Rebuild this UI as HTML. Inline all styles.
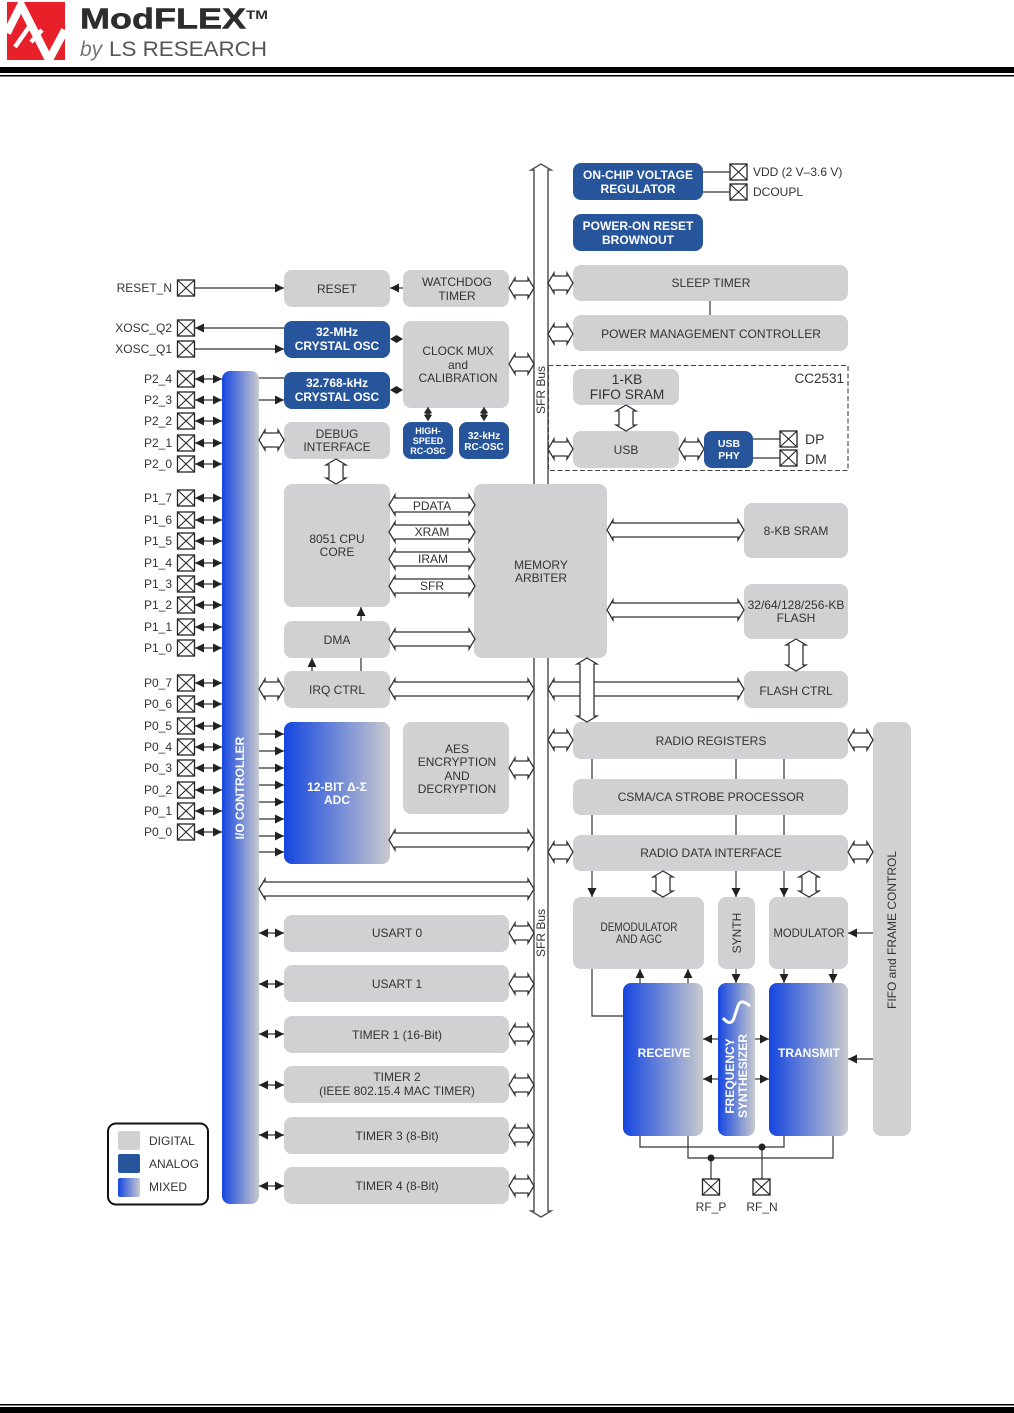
<!DOCTYPE html>
<html><head><meta charset="utf-8"><style>
html,body{margin:0;padding:0;background:#fff}
svg{display:block}
text{font-family:"Liberation Sans",sans-serif;font-size:12px;fill:#333;text-anchor:middle}
.w{fill:#fff;font-weight:bold}
.s{text-anchor:end}
.st{text-anchor:start}
.g{fill:#d0d1d3}.b2{fill:#27559b}.m{fill:url(#gr)}
.l{fill:none;stroke:#333;stroke-width:1.2}
.e{marker-end:url(#a)}
.d{marker-start:url(#a);marker-end:url(#a)}
.ba{fill:#fff;stroke:#333;stroke-width:1.3;stroke-linejoin:miter}
</style></head><body>
<svg width="1014" height="1413" viewBox="0 0 1014 1413" xmlns="http://www.w3.org/2000/svg">
<defs>
<linearGradient id="gr" x1="0" y1="0" x2="1" y2="0"><stop offset="0" stop-color="#1446e0"/><stop offset="1" stop-color="#c9cace"/></linearGradient>
<marker id="a" viewBox="0 0 9 9" refX="9" refY="4.5" markerWidth="9" markerHeight="9" markerUnits="userSpaceOnUse" orient="auto-start-reverse"><path d="M0 0L9 4.500L0 9z" fill="#222"/></marker>
<g id="p"><rect x="-8.500" y="-8" width="17" height="16" fill="#fff" stroke="#222" stroke-width="1.300"/><path d="M-8.500-8L8.500 8M8.500-8L-8.500 8" stroke="#222" stroke-width="1.100"/></g>
</defs>
<rect width="1014" height="1413" fill="#fff"/>

<!-- header -->
<rect x="7" y="2" width="58" height="58" fill="#e8202a"/>
<path d="M7 33L21 5L49 60L65 30" fill="none" stroke="#fff" stroke-width="8"/>
<path d="M15 47L29 27M31 42L42 30" fill="none" stroke="#fff" stroke-width="4.500"/>
<text x="80" y="28.500" style="font-size:29px;font-weight:bold;text-anchor:start;fill:#2d2d2d;stroke:#2d2d2d;stroke-width:.5" textLength="166" lengthAdjust="spacingAndGlyphs">ModFLEX</text>
<text x="246" y="19" style="font-size:12px;font-weight:bold;text-anchor:start;fill:#2d2d2d" textLength="22" lengthAdjust="spacingAndGlyphs">TM</text>
<text x="80" y="56" style="font-size:21px;font-style:italic;text-anchor:start;fill:#777">by</text>
<text x="109" y="56" style="font-size:21.500px;text-anchor:start;fill:#555" textLength="158" lengthAdjust="spacingAndGlyphs">LS RESEARCH</text>
<rect x="0" y="67" width="1014" height="6" fill="#000"/>
<rect x="0" y="75" width="1014" height="1.500" fill="#000"/>
<rect x="0" y="1404" width="1014" height="1.500" fill="#000"/>
<rect x="0" y="1407" width="1014" height="6" fill="#000"/>

<!-- SFR bus -->
<path d="M541 164l-10 6h3v1041h-3l10 6 10-6h-3V170h3z" fill="#fff" stroke="#555" stroke-width="1.500"/>
<text transform="translate(545 390) rotate(-90)">SFR Bus</text>
<text transform="translate(545 933) rotate(-90)">SFR Bus</text>

<!-- dashed -->
<rect x="548.500" y="365.500" width="299.500" height="105" fill="none" stroke="#444" stroke-width="1.100" stroke-dasharray="5 2.500"/>

<!-- blocks -->
<rect class="g" x="284" y="270" width="106" height="37" rx="8"/>
<rect class="g" x="403" y="270" width="106" height="37" rx="8"/>
<rect class="b2" x="284" y="321" width="106" height="37" rx="8"/>
<rect class="b2" x="284" y="372" width="106" height="37" rx="8"/>
<rect class="g" x="403" y="321" width="106" height="87" rx="8"/>
<rect class="g" x="284" y="422" width="106" height="37" rx="8"/>
<rect class="b2" x="403" y="422" width="50" height="37" rx="8"/>
<rect class="b2" x="459" y="422" width="50" height="37" rx="8"/>
<rect class="g" x="284" y="484" width="106" height="123" rx="8"/>
<rect class="g" x="474" y="484" width="133" height="174" rx="8"/>
<rect class="g" x="284" y="621" width="106" height="37" rx="8"/>
<rect class="g" x="284" y="671" width="106" height="37" rx="8"/>
<rect class="m" x="284" y="722" width="106" height="142" rx="8"/>
<rect class="g" x="403" y="722" width="106" height="92" rx="8"/>
<rect class="g" x="284" y="915" width="225" height="37" rx="8"/>
<rect class="g" x="284" y="965" width="225" height="37" rx="8"/>
<rect class="g" x="284" y="1016" width="225" height="37" rx="8"/>
<rect class="g" x="284" y="1066" width="225" height="37" rx="8"/>
<rect class="g" x="284" y="1117" width="225" height="37" rx="8"/>
<rect class="g" x="284" y="1167" width="225" height="37" rx="8"/>
<rect class="m" x="222" y="371" width="37" height="833" rx="8"/>
<rect class="b2" x="573" y="163" width="130" height="37" rx="8"/>
<rect class="b2" x="573" y="214" width="130" height="37" rx="8"/>
<rect class="g" x="573" y="265" width="275" height="36" rx="8"/>
<rect class="g" x="573" y="315" width="275" height="36" rx="8"/>
<rect class="g" x="573" y="369" width="106" height="36" rx="8"/>
<rect class="g" x="573" y="431" width="106" height="37" rx="8"/>
<rect class="b2" x="704" y="431" width="49" height="37" rx="8"/>
<rect class="g" x="744" y="503" width="104" height="55" rx="8"/>
<rect class="g" x="744" y="584" width="104" height="55" rx="8"/>
<rect class="g" x="744" y="671" width="104" height="37" rx="8"/>
<rect class="g" x="573" y="722" width="275" height="37" rx="8"/>
<rect class="g" x="573" y="779" width="275" height="36" rx="8"/>
<rect class="g" x="573" y="835" width="275" height="36" rx="8"/>
<rect class="g" x="573" y="897" width="131" height="72" rx="8"/>
<rect class="g" x="718" y="897" width="37" height="72" rx="8"/>
<rect class="g" x="769" y="897" width="79" height="72" rx="8"/>
<rect class="m" x="623" y="983" width="80" height="153" rx="8"/>
<rect class="m" x="718" y="983" width="37" height="153" rx="8"/>
<rect class="m" x="769" y="983" width="79" height="153" rx="8"/>
<rect class="g" x="873" y="722" width="38" height="414" rx="8"/>

<!-- horizontal block arrows -->
<path class="ba" d="M509 288l6-10v3h13v-3l6 10-6 10v-3h-13v3z"/>
<path class="ba" d="M548 283l6-10v3h13v-3l6 10-6 10v-3h-13v3z"/>
<path class="ba" d="M548 334l6-10v3h13v-3l6 10-6 10v-3h-13v3z"/>
<path class="ba" d="M509 364l6-10v3h13v-3l6 10-6 10v-3h-13v3z"/>
<path class="ba" d="M548 449l6-10v3h13v-3l6 10-6 10v-3h-13v3z"/>
<path class="ba" d="M679 449l6-10v3h13v-3l6 10-6 10v-3h-13v3z"/>
<path class="ba" d="M259 440l6-10v3h13v-3l6 10-6 10v-3h-13v3z"/>
<path class="ba" d="M389 505l6-10v3h74v-3l6 10-6 10v-3h-74v3z"/>
<path class="ba" d="M389 532l6-10v3h74v-3l6 10-6 10v-3h-74v3z"/>
<path class="ba" d="M389 559l6-10v3h74v-3l6 10-6 10v-3h-74v3z"/>
<path class="ba" d="M389 586l6-10v3h74v-3l6 10-6 10v-3h-74v3z"/>
<path class="ba" d="M389 639l6-10v3h74v-3l6 10-6 10v-3h-74v3z"/>
<path class="ba" d="M607 530l6-10v3h125v-3l6 10-6 10v-3H613v3z"/>
<path class="ba" d="M607 610l6-10v3h125v-3l6 10-6 10v-3H613v3z"/>
<path class="ba" d="M259 689l6-10v3h13v-3l6 10-6 10v-3h-13v3z"/>
<path class="ba" d="M389 689l6-10v3h133v-3l6 10-6 10v-3H395v3z"/>
<path class="ba" d="M548 689l6-10v3h184v-3l6 10-6 10v-3H554v3z"/>
<path class="ba" d="M509 768l6-10v3h13v-3l6 10-6 10v-3h-13v3z"/>
<path class="ba" d="M389 840l6-10v3h133v-3l6 10-6 10v-3H395v3z"/>
<path class="ba" d="M259 889l6-10v3h263v-3l6 10-6 10v-3H265v3z"/>
<path class="ba" d="M548 740l6-10v3h13v-3l6 10-6 10v-3h-13v3z"/>
<path class="ba" d="M848 740l6-10v3h13v-3l6 10-6 10v-3h-13v3z"/>
<path class="ba" d="M548 852l6-10v3h13v-3l6 10-6 10v-3h-13v3z"/>
<path class="ba" d="M848 852l6-10v3h13v-3l6 10-6 10v-3h-13v3z"/>
<path class="ba" d="M509 933l6-10v3h13v-3l6 10-6 10v-3h-13v3z"/>
<path class="ba" d="M509 984l6-10v3h13v-3l6 10-6 10v-3h-13v3z"/>
<path class="ba" d="M509 1034l6-10v3h13v-3l6 10-6 10v-3h-13v3z"/>
<path class="ba" d="M509 1085l6-10v3h13v-3l6 10-6 10v-3h-13v3z"/>
<path class="ba" d="M509 1135l6-10v3h13v-3l6 10-6 10v-3h-13v3z"/>
<path class="ba" d="M509 1186l6-10v3h13v-3l6 10-6 10v-3h-13v3z"/>
<!-- vertical -->
<path class="ba" d="M336 459l-10 6h3v13h-3l10 6 10-6h-3v-13h3z"/>
<path class="ba" d="M626 405l-10 6h3v14h-3l10 6 10-6h-3v-14h3z"/>
<path class="ba" d="M587 658l-10 6h3v52h-3l10 6 10-6h-3v-52h3z"/>
<path class="ba" d="M796 639l-10 6h3v20h-3l10 6 10-6h-3v-20h3z"/>
<path class="ba" d="M663 871l-10 6h3v14h-3l10 6 10-6h-3v-14h3z"/>
<path class="ba" d="M809 871l-10 6h3v14h-3l10 6 10-6h-3v-14h3z"/>

<!-- connectors -->
<path class="l e" d="M195 288H284"/>
<path class="l e" d="M284 328H195"/>
<path class="l e" d="M195 349H284"/>
<path class="l" d="M259 378H284"/>
<path class="l e" d="M259 400H284"/>
<path class="l e" d="M403 288H390"/>
<path d="M390 339l6.500-4 6.500 4-6.500 4zM390 390l6.500-4 6.500 4-6.500 4z" fill="#222"/>
<path d="M428 407l-4 6 4 1.500 4-1.500zM428 421l-4-6 4-1.500 4 1.500zM484 407l-4 6 4 1.500 4-1.500zM484 421l-4-6 4-1.500 4 1.500z" fill="#222"/>
<path class="l" d="M428 407V421M484 407V421"/>
<path class="l e" d="M361 621V607"/>
<path class="l" d="M361 658V671"/>
<path class="l e" d="M312 671V658"/>
<path class="l" d="M703 172H730M703 192H730M710 301V315M753 439H780M753 458H780"/>
<path class="l" d="M592 759V779M736 759V779M784 759V779M592 815V835M736 815V835M784 815V835"/>
<path class="l e" d="M592 871V897"/>
<path class="l e" d="M736 871V897"/>
<path class="l e" d="M784 871V897"/>
<path class="l e" d="M736 969V983"/>
<path class="l e" d="M784 969V983"/>
<path class="l e" d="M833 969V983"/>
<path class="l e" d="M640 983V969"/>
<path class="l e" d="M688 983V969"/>
<path class="l" d="M592 969V1016H623"/>
<path class="l e" d="M718 1039H703"/>
<path class="l e" d="M718 1079H703"/>
<path class="l e" d="M755 1039H769"/>
<path class="l e" d="M755 1079H769"/>
<path class="l e" d="M873 933H848"/>
<path class="l e" d="M873 1059H848"/>
<path class="l" d="M640 1136V1147H784V1136M688 1136V1158H833V1136M711 1158V1180M762 1147V1180"/>
<circle cx="711" cy="1158" r="3.500" fill="#222"/>
<circle cx="762" cy="1147" r="3.500" fill="#222"/>

<path class="l d" d="M195 379H222"/><path class="l d" d="M195 400H222"/><path class="l d" d="M195 421H222"/><path class="l d" d="M195 443H222"/><path class="l d" d="M195 464H222"/>
<path class="l d" d="M195 498H222"/><path class="l d" d="M195 520H222"/><path class="l d" d="M195 541H222"/><path class="l d" d="M195 563H222"/><path class="l d" d="M195 584H222"/><path class="l d" d="M195 605H222"/><path class="l d" d="M195 627H222"/><path class="l d" d="M195 648H222"/>
<path class="l d" d="M195 683H222"/><path class="l d" d="M195 704H222"/><path class="l d" d="M195 726H222"/><path class="l d" d="M195 747H222"/><path class="l d" d="M195 768H222"/><path class="l d" d="M195 790H222"/><path class="l d" d="M195 811H222"/><path class="l d" d="M195 832H222"/>
<path class="l e" d="M259 734H284"/><path class="l e" d="M259 751H284"/><path class="l e" d="M259 768H284"/><path class="l e" d="M259 785H284"/><path class="l e" d="M259 802H284"/><path class="l e" d="M259 819H284"/><path class="l e" d="M259 836H284"/><path class="l e" d="M259 852H284"/>
<path class="l d" d="M259 933H284"/><path class="l d" d="M259 984H284"/><path class="l d" d="M259 1034H284"/><path class="l d" d="M259 1085H284"/><path class="l d" d="M259 1135H284"/><path class="l d" d="M259 1186H284"/>

<!-- pads -->
<use href="#p" x="186" y="288"/><use href="#p" x="186" y="328"/><use href="#p" x="186" y="349"/>
<use href="#p" x="186" y="379"/><use href="#p" x="186" y="400"/><use href="#p" x="186" y="421"/><use href="#p" x="186" y="443"/><use href="#p" x="186" y="464"/>
<use href="#p" x="186" y="498"/><use href="#p" x="186" y="520"/><use href="#p" x="186" y="541"/><use href="#p" x="186" y="563"/><use href="#p" x="186" y="584"/><use href="#p" x="186" y="605"/><use href="#p" x="186" y="627"/><use href="#p" x="186" y="648"/>
<use href="#p" x="186" y="683"/><use href="#p" x="186" y="704"/><use href="#p" x="186" y="726"/><use href="#p" x="186" y="747"/><use href="#p" x="186" y="768"/><use href="#p" x="186" y="790"/><use href="#p" x="186" y="811"/><use href="#p" x="186" y="832"/>
<use href="#p" x="738.500" y="172"/><use href="#p" x="738.500" y="192"/>
<use href="#p" x="788.500" y="439"/><use href="#p" x="788.500" y="458"/>
<use href="#p" x="711" y="1187"/><use href="#p" x="761.500" y="1187"/>

<!-- pin labels -->
<text class="s" x="172" y="292">RESET_N</text>
<text class="s" x="172" y="332">XOSC_Q2</text>
<text class="s" x="172" y="353">XOSC_Q1</text>
<text class="s" x="172" y="383">P2_4</text><text class="s" x="172" y="404">P2_3</text><text class="s" x="172" y="425">P2_2</text><text class="s" x="172" y="447">P2_1</text><text class="s" x="172" y="468">P2_0</text>
<text class="s" x="172" y="502">P1_7</text><text class="s" x="172" y="524">P1_6</text><text class="s" x="172" y="545">P1_5</text><text class="s" x="172" y="567">P1_4</text><text class="s" x="172" y="588">P1_3</text><text class="s" x="172" y="609">P1_2</text><text class="s" x="172" y="631">P1_1</text><text class="s" x="172" y="652">P1_0</text>
<text class="s" x="172" y="687">P0_7</text><text class="s" x="172" y="708">P0_6</text><text class="s" x="172" y="730">P0_5</text><text class="s" x="172" y="751">P0_4</text><text class="s" x="172" y="772">P0_3</text><text class="s" x="172" y="794">P0_2</text><text class="s" x="172" y="815">P0_1</text><text class="s" x="172" y="836">P0_0</text>
<text class="st" x="753" y="176">VDD (2 V–3.6 V)</text>
<text class="st" x="753" y="196">DCOUPL</text>
<text class="st" x="805" y="444" style="font-size:14px">DP</text>
<text class="st" x="805" y="464" style="font-size:14px">DM</text>
<text x="711" y="1211">RF_P</text>
<text x="762" y="1211">RF_N</text>
<text class="s" x="844" y="383" style="font-size:13.500px">CC2531</text>

<!-- block labels -->
<text x="337" y="293">RESET</text>
<text x="457" y="286">WATCHDOG</text><text x="457" y="300">TIMER</text>
<text class="w" x="337" y="336">32-MHz</text><text class="w" x="337" y="350">CRYSTAL OSC</text>
<text class="w" x="337" y="387">32.768-kHz</text><text class="w" x="337" y="401">CRYSTAL OSC</text>
<text x="458" y="355">CLOCK MUX</text><text x="458" y="369">and</text><text x="458" y="382">CALIBRATION</text>
<text x="337" y="438">DEBUG</text><text x="337" y="451">INTERFACE</text>
<text class="w" x="428" y="434" style="font-size:9px">HIGH-</text><text class="w" x="428" y="444" style="font-size:9px">SPEED</text><text class="w" x="428" y="454" style="font-size:9px">RC-OSC</text>
<text class="w" x="484" y="439" style="font-size:10px">32-kHz</text><text class="w" x="484" y="450" style="font-size:10px">RC-OSC</text>
<text x="337" y="543">8051 CPU</text><text x="337" y="556">CORE</text>
<text x="541" y="569">MEMORY</text><text x="541" y="582">ARBITER</text>
<text x="432" y="510">PDATA</text><text x="432" y="536">XRAM</text><text x="433" y="563">IRAM</text><text x="432" y="590">SFR</text>
<text x="337" y="644">DMA</text>
<text x="337" y="694">IRQ CTRL</text>
<text class="w" x="337" y="791">12-BIT Δ-Σ</text><text class="w" x="337" y="804">ADC</text>
<text x="457" y="753">AES</text><text x="457" y="766">ENCRYPTION</text><text x="457" y="780">AND</text><text x="457" y="793">DECRYPTION</text>
<text x="397" y="937">USART 0</text>
<text x="397" y="988">USART 1</text>
<text x="397" y="1039">TIMER 1 (16-Bit)</text>
<text x="397" y="1081">TIMER 2</text><text x="397" y="1095">(IEEE 802.15.4 MAC TIMER)</text>
<text x="397" y="1140">TIMER 3 (8-Bit)</text>
<text x="397" y="1190">TIMER 4 (8-Bit)</text>
<text class="w" x="638" y="179">ON-CHIP VOLTAGE</text><text class="w" x="638" y="193">REGULATOR</text>
<text class="w" x="638" y="230">POWER-ON RESET</text><text class="w" x="638" y="244">BROWNOUT</text>
<text x="711" y="287">SLEEP TIMER</text>
<text x="711" y="338">POWER MANAGEMENT CONTROLLER</text>
<text x="627" y="384" style="font-size:13.700px">1-KB</text><text x="627" y="399" style="font-size:13.700px">FIFO SRAM</text>
<text x="626" y="454">USB</text>
<text class="w" x="729" y="447" style="font-size:10.500px">USB</text><text class="w" x="729" y="459" style="font-size:10.500px">PHY</text>
<text x="796" y="535">8-KB SRAM</text>
<text x="796" y="609">32/64/128/256-KB</text><text x="796" y="622">FLASH</text>
<text x="796" y="695">FLASH CTRL</text>
<text x="711" y="745">RADIO REGISTERS</text>
<text x="711" y="801">CSMA/CA STROBE PROCESSOR</text>
<text x="711" y="857">RADIO DATA INTERFACE</text>
<text x="639" y="931" textLength="77" lengthAdjust="spacingAndGlyphs">DEMODULATOR</text><text x="639" y="943" textLength="46" lengthAdjust="spacingAndGlyphs">AND AGC</text>
<text transform="translate(741 933) rotate(-90)">SYNTH</text>
<text x="809" y="937" textLength="71" lengthAdjust="spacingAndGlyphs">MODULATOR</text>
<text class="w" x="664" y="1057">RECEIVE</text>
<text class="w" x="809" y="1057">TRANSMIT</text>
<text class="w" transform="translate(734 1076) rotate(-90)">FREQUENCY</text>
<text class="w" transform="translate(747 1076) rotate(-90)">SYNTHESIZER</text>
<path d="M723 1018C728 1024 732 1024 734 1018L738 1006C740 1000 744 1001 750 1006" fill="none" stroke="#fff" stroke-width="3"/>
<text class="w" transform="translate(244 788) rotate(-90)">I/O CONTROLLER</text>
<text transform="translate(896 930) rotate(-90)">FIFO and FRAME CONTROL</text>

<!-- legend -->
<rect x="108" y="1123.500" width="100" height="81" rx="8" fill="#fff" stroke="#111" stroke-width="2"/>
<rect class="g" x="118" y="1131" width="22" height="19" rx="2"/>
<rect class="b2" x="118" y="1154" width="22" height="19" rx="2"/>
<rect class="m" x="118" y="1178" width="22" height="19" rx="2"/>
<text class="st" x="149" y="1145">DIGITAL</text>
<text class="st" x="149" y="1168">ANALOG</text>
<text class="st" x="149" y="1191">MIXED</text>
</svg>
</body></html>
